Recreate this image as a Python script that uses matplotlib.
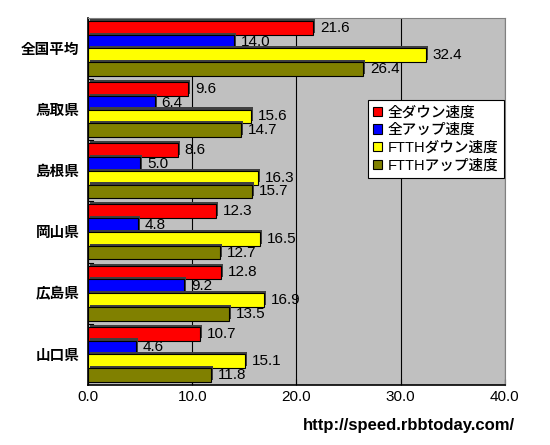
import numpy as np
import matplotlib.pyplot as plt
import matplotlib.patheffects as pe
from matplotlib.patches import Patch

plt.rcParams['font.family'] = ['Liberation Sans', 'Noto Sans CJK JP', 'DejaVu Sans']

# データ
prefs = ['全国平均', '鳥取県', '島根県', '岡山県', '広島県', '山口県']
series_names = ['全ダウン速度', '全アップ速度', 'FTTHダウン速度', 'FTTHアップ速度']
all_down = [21.6, 9.6, 8.6, 12.3, 12.8, 10.7]
all_up = [14.0, 6.4, 5.0, 4.8, 9.2, 4.6]
ftth_down = [32.4, 15.6, 16.3, 16.5, 16.9, 15.1]
ftth_up = [26.4, 14.7, 15.7, 12.7, 13.5, 11.8]
xticks = [0, 10, 20, 30, 40]

colors = ['#FF0000', '#0000FF', '#FFFF00', '#808000']
series = [all_down, all_up, ftth_down, ftth_up]

fig = plt.figure(figsize=(5.5, 4.45), dpi=100)
ax = fig.add_axes([0.16, 0.135, 0.758, 0.825])
ax.set_facecolor('#C0C0C0')

n = len(prefs)
y = np.arange(n)
h = 0.225
shadow = [pe.SimplePatchShadow(offset=(1.5, 1.5), shadow_rgbFace='#404040', alpha=1), pe.Normal()]

for i, (vals, c) in enumerate(zip(series, colors)):
    pos = y + (i - 1.5) * h
    bars = ax.barh(pos, vals, height=h, color=c, edgecolor='black', linewidth=0.8, zorder=3)
    for b in bars:
        b.set_path_effects(shadow)
    for p, v in zip(pos, vals):
        ax.annotate(f'{v:.1f}', (v, p), xytext=(5, 0), textcoords='offset points',
                    va='center', ha='left', fontsize=11, zorder=4)

ax.set_xlim(0, 40)
ax.set_ylim(n - 0.5, -0.5)
ax.set_xticks(xticks)
ax.set_xticklabels([f'{t:.1f}' for t in xticks], fontsize=11)
ax.set_yticks(y)
ax.set_yticklabels(prefs, fontsize=10.5, fontweight='bold')
ax.tick_params(axis='y', length=0, pad=6)
ax.tick_params(axis='x', length=4, direction='in')
ax.xaxis.grid(True, color='black', linewidth=0.8, zorder=1)
ax.set_axisbelow(True)

# 区切り線
for k in range(1, n):
    ax.axhline(k - 0.5, xmin=0, xmax=0.012, color='black', linewidth=0.8)

for s in ['left', 'bottom']:
    ax.spines[s].set_color('black')
    ax.spines[s].set_linewidth(1.2)
for s in ['top', 'right']:
    ax.spines[s].set_color('#808080')

handles = [Patch(facecolor=c, edgecolor='black', linewidth=0.8) for c in colors]
leg = ax.legend(handles, series_names, loc='upper right', bbox_to_anchor=(0.997, 0.775),
                prop={'size': 10.5, 'weight': 'medium'},
                frameon=True, fancybox=False, edgecolor='black', framealpha=1,
                handlelength=0.6, handleheight=0.6, handletextpad=0.4,
                borderpad=0.35, labelspacing=0.25, borderaxespad=0)
leg.get_frame().set_linewidth(0.8)
leg.set_zorder(5)

fig.text(0.937, 0.043, 'http://speed.rbbtoday.com/', ha='right', va='center',
         fontsize=12, fontweight='bold')

plt.savefig('out.png', dpi=100)
